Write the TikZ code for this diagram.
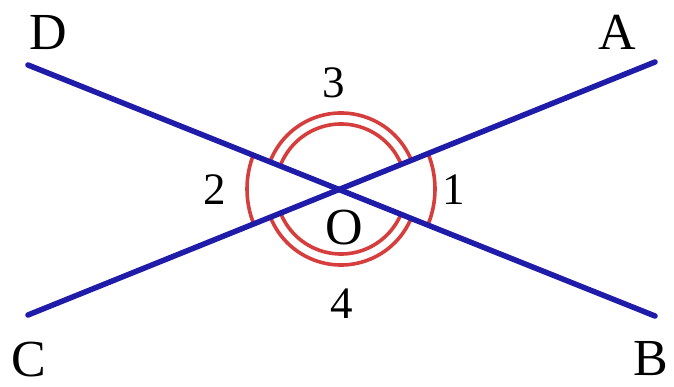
\documentclass[tikz,border=0pt]{standalone}
\usepackage{fontspec}
\setmainfont{Liberation Serif}
\definecolor{lineblue}{RGB}{30,28,168}
\definecolor{arcred}{RGB}{214,62,62}
\tikzset{
  blueline/.style={draw=lineblue, line width=5.5pt, line cap=round},
  redarc/.style={draw=arcred, line width=3.6pt},
  ptlabel/.style={text=black, inner sep=0pt, font=\fontsize{52}{56}\selectfont},
  numlabel/.style={text=black, inner sep=0pt, font=\fontsize{45}{49}\selectfont}
}
\begin{document}
\begin{tikzpicture}[x=1pt,y=1pt]
\useasboundingbox (0,0) rectangle (674,387);
\fill[white] (0,0) rectangle (674,387);
\coordinate (O) at (341,198);
\coordinate (D) at (28,322);
\coordinate (A) at (655,325);
\coordinate (C) at (28,72);
\coordinate (B) at (655,71);
% arcs
\draw[redarc] ([shift={(O)}]-22:94pt) arc[start angle=-22, end angle=22, radius=94pt];
\draw[redarc] ([shift={(O)}]158:94pt) arc[start angle=158, end angle=202, radius=94pt];
\draw[redarc] ([shift={(O)}]22:65pt) arc[start angle=22, end angle=158, radius=65pt];
\draw[redarc] ([shift={(O)}]22:76pt) arc[start angle=22, end angle=158, radius=76pt];
\draw[redarc] ([shift={(O)}]202:65pt) arc[start angle=202, end angle=338, radius=65pt];
\draw[redarc] ([shift={(O)}]202:76pt) arc[start angle=202, end angle=338, radius=76pt];
% lines
\draw[blueline] (D) -- (B);
\draw[blueline] (C) -- (A);
% labels
\node[ptlabel] (lD) at (48,354) {D};
\node[ptlabel] (lA) at (617,355) {A};
\node[ptlabel] (lC) at (29,27) {C};
\node[ptlabel] (lB) at (651,28) {B};
\node[numlabel] (l3) at (334,304) {3};
\node[numlabel] (l2) at (215,197) {2};
\node[numlabel] (l1) at (454,197) {1};
\node[numlabel] (l4) at (342,83) {4};
\node[ptlabel] (lO) at (344,159) {O};
\end{tikzpicture}
\end{document}
